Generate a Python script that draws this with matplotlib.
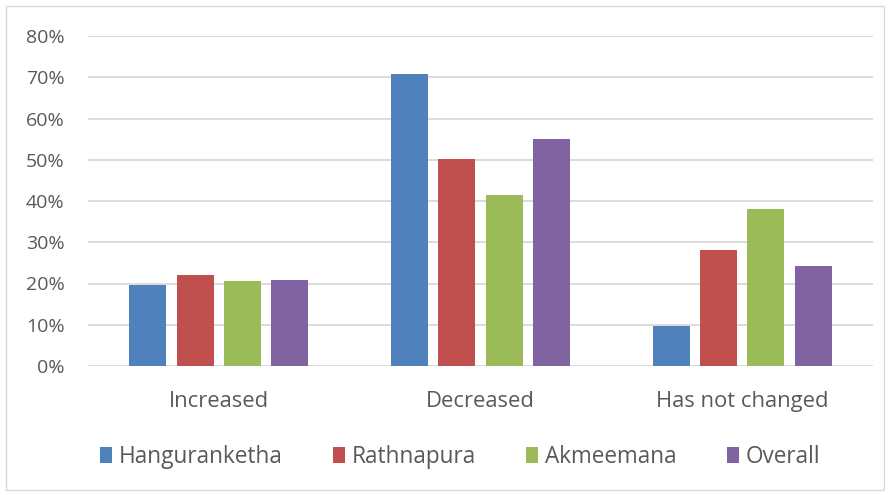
import numpy as np
import matplotlib.pyplot as plt
from matplotlib.patches import Rectangle
from matplotlib.ticker import PercentFormatter

# data (percent)
categories = ['Increased', 'Decreased', 'Has not changed']
series = ['Hanguranketha', 'Rathnapura', 'Akmeemana', 'Overall']
hanguranketha = [19.6, 70.8, 9.7]
rathnapura = [22.1, 50.1, 28.1]
akmeemana = [20.6, 41.4, 38.1]
overall = [20.8, 55.0, 24.2]
colors = ['#4F81BD', '#C0504D', '#9BBB59', '#8064A2']

plt.rcParams['font.family'] = ['Open Sans', 'DejaVu Sans']
txt = '#595959'

fig = plt.figure(figsize=(8.9, 4.95), dpi=100)
ax = fig.add_axes([88/890, 129/495, 785/890, 330/495])

# chart border
fig.patches.append(Rectangle((6/890, 5/495), 878/890, 484/495, transform=fig.transFigure,
                             fill=False, edgecolor='#D9D9D9', linewidth=1))

x = np.arange(len(categories))
w = 0.141
step = 0.181
for i, (name, vals) in enumerate(zip(series, [hanguranketha, rathnapura, akmeemana, overall])):
    ax.bar(x + (i - 1.5)*step, vals, width=w, color=colors[i], label=name, zorder=3)

ax.set_xlim(-0.5, 2.5)
ax.set_ylim(0, 80)
ax.set_yticks(np.arange(0, 81, 10))
ax.yaxis.set_major_formatter(PercentFormatter(decimals=0))
ax.grid(axis='y', color='#D9D9D9', linewidth=1.3, zorder=0)
for s in ax.spines.values():
    s.set_visible(False)
ax.tick_params(axis='both', length=0, colors=txt)
ax.tick_params(axis='y', pad=17, labelsize=14)
ax.tick_params(axis='x', pad=18, labelsize=15.8)
ax.set_xticks(x)
ax.set_xticklabels(categories)

fig.legend(loc='center', bbox_to_anchor=(460/890, 1 - 457/495), ncol=4, frameon=False,
           fontsize=16.3, labelcolor=txt, handlelength=0.55, handleheight=0.75,
           handletextpad=0.3, columnspacing=2.2)

fig.savefig('out.png', dpi=100)
